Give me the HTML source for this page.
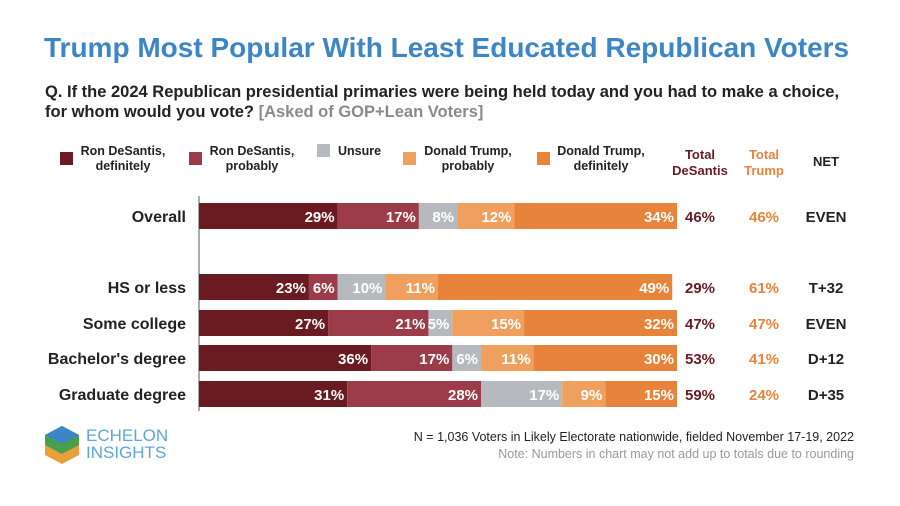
<!DOCTYPE html>
<html><head><meta charset="utf-8"><style>
body{margin:0;background:#fff;font-family:"Liberation Sans",sans-serif;}
#c{position:relative;width:900px;height:506px;overflow:hidden;}
.t{position:absolute;white-space:nowrap;}
</style></head><body>
<div id="c">
<div class="t" style="left:44px;top:32px;font-size:28px;font-weight:bold;color:#3d86c6;">Trump Most Popular With Least Educated Republican Voters</div>
<div class="t" style="left:45px;top:82px;font-size:16.5px;font-weight:bold;color:#222;line-height:20px;">Q. If the 2024 Republican presidential primaries were being held today and you had to make a choice,<br>for whom would you vote? <span style="color:#8a8a8a">[Asked of GOP+Lean Voters]</span></div>
<svg id="s" width="900" height="506" style="position:absolute;left:0;top:0"></svg>
<div class="t" style="right:46px;top:430px;font-size:12.5px;color:#222;">N = 1,036 Voters in Likely Electorate nationwide, fielded November 17-19, 2022</div>
<div class="t" style="right:46px;top:447px;font-size:12.5px;color:#999;">Note: Numbers in chart may not add up to totals due to rounding</div>
<div style="position:absolute;left:42px;top:425px;">
<svg width="40" height="40" viewBox="0 0 40 40"><polygon points="20,1 37,10 37,30 20,39 3,30 3,10" fill="#e8a03a"/><polygon points="20,1 37,10 37,20 20,29 3,20 3,10" fill="#4aa04a"/><polygon points="20,1 37,10 20,19 3,10" fill="#3b86c6"/></svg>
<div class="t" style="left:44px;top:2px;font-size:17px;color:#5ea6d6;line-height:17px;">ECHELON<br>INSIGHTS</div>
</div>
</div>
<script>
const categories=["Overall","HS or less","Some college","Bachelor's degree","Graduate degree"];
const seriesNames=["Ron DeSantis,\ndefinitely","Ron DeSantis,\nprobably","Unsure","Donald Trump,\nprobably","Donald Trump,\ndefinitely"];
const desantisDef=[29,23,27,36,31];
const desantisProb=[17,6,21,17,28];
const unsure=[8,10,5,6,17];
const trumpProb=[12,11,15,11,9];
const trumpDef=[34,49,32,30,15];
const totalDeSantis=[46,29,47,53,59];
const totalTrump=[46,61,47,41,24];
const net=["EVEN","T+32","EVEN","D+12","D+35"];
const colors=["#6a1b22","#9c3c4a","#b6b9be","#f0a05e","#e8833b"];
const rowY=[203,274,310,345,381];
const x0=199,pxPer=4.78,bh=26;
const sx=v=>x0+v*pxPer;
const s=document.getElementById('s');
const NS="http://www.w3.org/2000/svg";
function mk(tag,attrs,txt){const e=document.createElementNS(NS,tag);for(const k in attrs)e.setAttribute(k,attrs[k]);if(txt!==undefined)e.textContent=txt;s.appendChild(e);return e;}
// legend
const legX=[60,189,317,403,537];
const legTx=[123,252,338,468,601];
seriesNames.forEach((n,i)=>{
 const r=mk('rect',{x:legX[i],y:i==2?144:152,width:13,height:13,fill:colors[i]});
 
 
 const lines=n.split("\n");
 lines.forEach((l,j)=>{
  const t=mk('text',{x:legTx[i],y:155+j*15,'font-size':12.5,'font-weight':'bold',fill:'#222','text-anchor':i==2?'start':'middle'},l);
  
  
 });
});
// column headers
[["Total","DeSantis",700,"#6a1b22"],["Total","Trump",764,"#e8833b"]].forEach(h=>{
 [h[0],h[1]].forEach((l,j)=>{const t=mk('text',{x:h[2],y:159+j*16,'font-size':13,'font-weight':'bold',fill:h[3],'text-anchor':'middle'},l);
 
 });
});
const nh=mk('text',{x:826,y:166,'font-size':13,'font-weight':'bold',fill:'#222','text-anchor':'middle'},"NET");


const ax=mk('line',{x1:x0,x2:x0,y1:196,y2:411,stroke:'#555','stroke-width':1});


const series=[desantisDef,desantisProb,unsure,trumpProb,trumpDef];
categories.forEach((c,i)=>{
 const y=rowY[i];
 const cl=mk('text',{x:186,y:y+19,'font-size':16,'font-weight':'bold',fill:'#222','text-anchor':'end'},c);
 
 
 let acc=0;
 series.forEach((arr,k)=>{
  const v=arr[i];
  const r=mk('rect',{x:sx(acc),y:y,width:v*pxPer,height:bh,fill:colors[k]});
  
  
  acc+=v;
  const t=mk('text',{x:sx(acc)-3,y:y+19,'font-size':15,'font-weight':'bold',fill:'#fff','text-anchor':'end'},v+"%");
  
  
 });
 const a=mk('text',{x:700,y:y+19,'font-size':15,'font-weight':'bold',fill:'#6a1b22','text-anchor':'middle'},totalDeSantis[i]+"%");
 
 
 const b=mk('text',{x:764,y:y+19,'font-size':15,'font-weight':'bold',fill:'#e8833b','text-anchor':'middle'},totalTrump[i]+"%");
 
 
 const n=mk('text',{x:826,y:y+19,'font-size':15,'font-weight':'bold',fill:'#222','text-anchor':'middle'},net[i]);
 
 
});
</script>
</body></html>
